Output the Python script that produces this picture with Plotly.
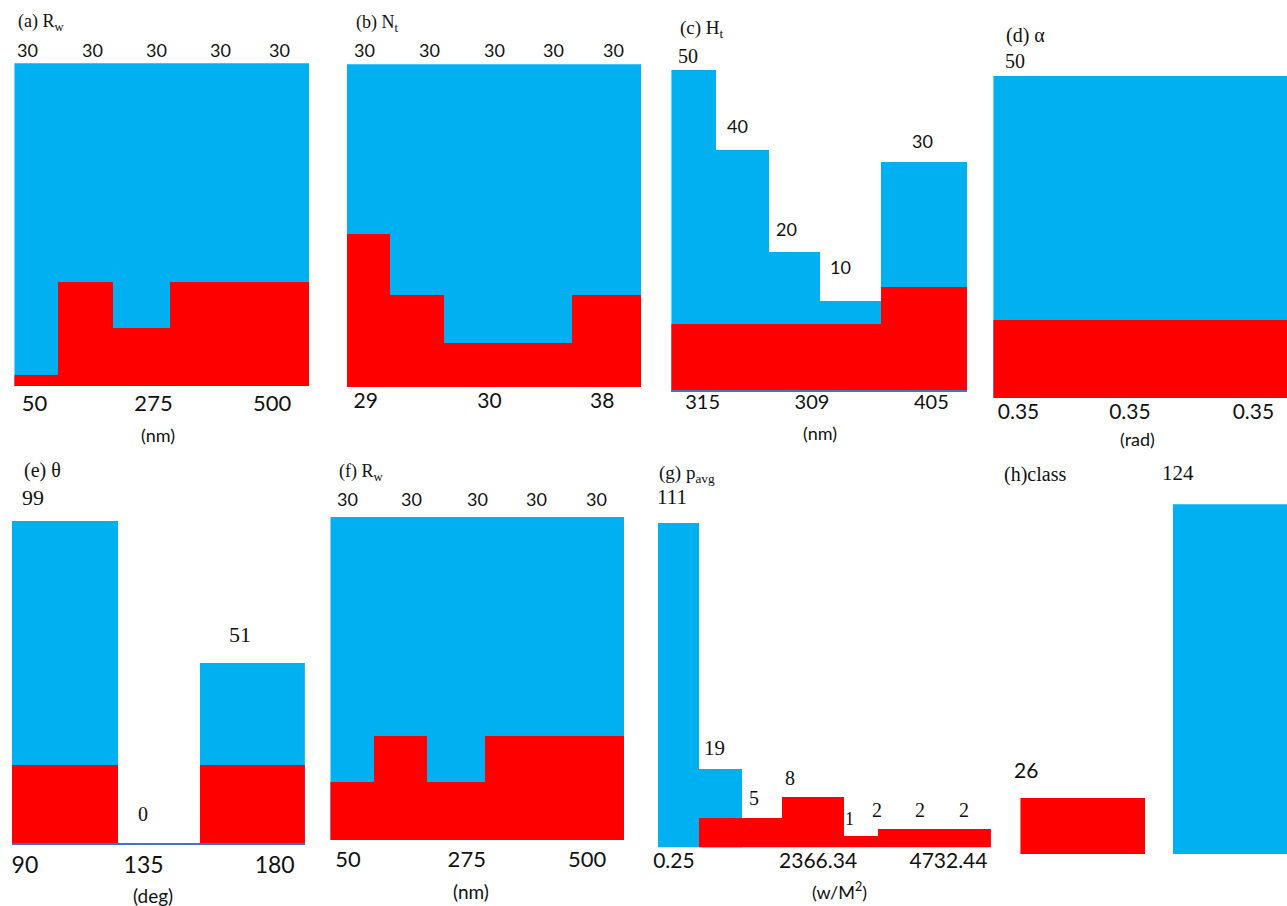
import plotly.graph_objects as go

W, H = 1287, 906
BLUE = "#00B0F0"
RED = "#FF0000"
LINE = "#4472C4"
SERIF = "Liberation Serif, Times New Roman, serif"
SANS = "Lato, Carlito, Calibri, sans-serif"

# ---------------- data (bin edges as fraction of panel width, heights in counts) ----------
a_blue_edges = [0, 1.0]
a_blue = [30]
a_red_edges = [0, 0.150, 0.335, 0.531, 1.0]
a_red = [1.0, 9.6, 5.4, 9.6]
a_counts = ["30", "30", "30", "30", "30"]
a_ticks = ["50", "275", "500"]

b_blue_edges = [0, 1.0]
b_blue = [30]
b_red_edges = [0, 0.146, 0.329, 0.766, 1.0]
b_red = [14.2, 8.5, 4.1, 8.5]
b_counts = ["30", "30", "30", "30", "30"]
b_ticks = ["29", "30", "38"]

c_blue_edges = [0, 0.1535, 0.3322, 0.5056, 0.711, 1.0]
c_blue = [50, 37.5, 21.5, 13.9, 35.6]
c_red_edges = [0, 0.711, 1.0]
c_red = [10.3, 16.1]
c_counts = ["50", "40", "20", "10", "30"]
c_ticks = ["315", "309", "405"]

d_blue_edges = [0, 1.0]
d_blue = [50]
d_red_edges = [0, 1.0]
d_red = [12.1]
d_counts = ["50"]
d_ticks = ["0.35", "0.35", "0.35"]

e_blue_edges = [0, 0.3603, 0.6424, 1.0]
e_blue = [99, 0, 55.4]
e_red_edges = [0, 0.3603, 0.6424, 1.0]
e_red = [24.0, 0, 24.0]
e_counts = ["99", "0", "51"]
e_ticks = ["90", "135", "180"]

f_blue_edges = [0, 1.0]
f_blue = [30]
f_red_edges = [0, 0.1484, 0.3311, 0.5273, 1.0]
f_red = [5.4, 9.7, 5.4, 9.7]
f_counts = ["30", "30", "30", "30", "30"]
f_ticks = ["50", "275", "500"]

g_blue_edges = [0, 0.122, 0.253]
g_blue = [111, 27.0]
g_red_edges = [0.122, 0.253, 0.3724, 0.5579, 0.659, 1.0]
g_red = [10.1, 10.1, 17.3, 4.0, 6.3]
g_counts = ["111", "19", "5", "8", "1", "2", "2", "2"]
g_ticks = ["0.25", "2366.34", "4732.44"]

h_blue_edges = [0.574, 1.0]
h_blue = [124]
h_red_edges = [0, 0.4705]
h_red = [19.8]
h_counts = ["26", "124"]

titles = ["(a) R<sub>w</sub>", "(b) N<sub>t</sub>", "(c) H<sub>t</sub>", "(d) α",
          "(e) θ", "(f) R<sub>w</sub>", "(g) p<sub>avg</sub>", "(h)class"]

# ---------------- layout helpers ----------------
def px(x, y):
    return x / W, 1 - y / H

panels = [
    dict(box=(10.5, 306, 63.3, 386), ymax=30,
         be=a_blue_edges, bh=a_blue, re=a_red_edges, rh=a_red,
         ticks=a_ticks, tpos=[0.068, 0.472, 0.875], tsize=22, stand=2, line=False),
    dict(box=(344, 639, 64.3, 387.3), ymax=30,
         be=b_blue_edges, bh=b_blue, re=b_red_edges, rh=b_red,
         ticks=b_ticks, tpos=[0.064, 0.485, 0.868], tsize=21, stand=-1, line=False),
    dict(box=(669.5, 966, 70, 390), ymax=50,
         be=c_blue_edges, bh=c_blue, re=c_red_edges, rh=c_red,
         ticks=c_ticks, tpos=[0.1056, 0.4755, 0.8796], tsize=20, stand=-7, line=True),
    dict(box=(992.5, 1287, 76, 398.3), ymax=50,
         be=d_blue_edges, bh=d_blue, re=d_red_edges, rh=d_red,
         ticks=d_ticks, tpos=[0.0856, 0.4649, 0.8856], tsize=21, stand=-1, line=False),
    dict(box=(7.6, 301.8, 520.7, 843.3), ymax=99,
         be=e_blue_edges, bh=e_blue, re=e_red_edges, rh=e_red,
         ticks=e_ticks, tpos=[0.0455, 0.45, 0.897], tsize=23, stand=0, line=True),
    dict(box=(327.5, 622, 516.7, 840), ymax=30,
         be=f_blue_edges, bh=f_blue, re=f_red_edges, rh=f_red,
         ticks=f_ticks, tpos=[0.0594, 0.4642, 0.874], tsize=22, stand=4, line=False),
    dict(box=(655.7, 990, 522.7, 847.3), ymax=111,
         be=g_blue_edges, bh=g_blue, re=g_red_edges, rh=g_red,
         ticks=g_ticks, tpos=[0.0488, 0.4813, 0.8726], tsize=21, stand=-1, line=False),
    dict(box=(1019.6, 1287, 504.3, 854.3), ymax=124,
         be=h_blue_edges, bh=h_blue, re=h_red_edges, rh=h_red,
         ticks=[], tpos=[], tsize=21, stand=0, line=False),
]

fig = go.Figure()
layout = dict(
    width=W, height=H, margin=dict(l=0, r=0, t=0, b=0),
    paper_bgcolor="white", plot_bgcolor="rgba(0,0,0,0)",
    barmode="overlay", showlegend=False, bargap=0,
)

def bars(edges, heights):
    mids = [(edges[i] + edges[i + 1]) / 2 for i in range(len(heights))]
    widths = [edges[i + 1] - edges[i] for i in range(len(heights))]
    return mids, widths

for i, p in enumerate(panels, start=1):
    xa = "x" if i == 1 else f"x{i}"
    ya = "y" if i == 1 else f"y{i}"
    l, r, t, b = p["box"]
    bx, bw = bars(p["be"], p["bh"])
    fig.add_trace(go.Bar(x=bx, y=p["bh"], width=bw, marker=dict(color=BLUE, line=dict(width=0)),
                         xaxis=xa, yaxis=ya, hoverinfo="skip"))
    rx, rw = bars(p["re"], p["rh"])
    fig.add_trace(go.Bar(x=rx, y=p["rh"], width=rw, marker=dict(color=RED, line=dict(width=0)),
                         xaxis=xa, yaxis=ya, hoverinfo="skip"))
    xkey = "xaxis" if i == 1 else f"xaxis{i}"
    ykey = "yaxis" if i == 1 else f"yaxis{i}"
    layout[xkey] = dict(domain=[l / W, r / W], range=[0, 1], anchor=ya,
                        showgrid=False, zeroline=False, ticks="",
                        showline=p["line"], linecolor=LINE, linewidth=1.5,
                        layer="below traces",
                        tickmode="array", tickvals=p["tpos"], ticktext=p["ticks"],
                        ticklabelstandoff=p["stand"],
                        tickfont=dict(family=SANS, size=p["tsize"], color="#111"),
                        fixedrange=True)
    layout[ykey] = dict(domain=[1 - b / H, 1 - t / H], range=[0, p["ymax"]], anchor=xa,
                        visible=False, fixedrange=True)

annotations = []

def ann(text, x, y, size, family, anchor="center", color="#111"):
    ax, ay = px(x, y)
    annotations.append(dict(text=text, x=ax, y=ay, xref="paper", yref="paper",
                            xanchor=anchor, yanchor="middle", showarrow=False,
                            font=dict(family=family, size=size, color=color)))

# titles
title_pos = [(12, 22, 18), (351, 23, 18), (676, 29, 19), (1003, 35.5, 20),
             (18, 470, 20), (334.5, 472, 18), (655, 474.5, 19), (1001.5, 474.5, 20)]
for txt, (x, y, s) in zip(titles, title_pos):
    ann(txt, x, y, s, SERIF, "left")

# count labels
for txt, x in zip(a_counts, [23.3, 88.3, 153.3, 216.7, 276.7]):
    ann(txt, x, 50, 18, SANS)
for txt, x in zip(b_counts, [362, 427, 492.5, 551.4, 611]):
    ann(txt, x, 50, 18, SANS)
ann(c_counts[0], 686.5, 55.5, 20, SERIF)
for txt, (x, y) in zip(c_counts[1:], [(735.3, 126), (785.3, 229.3), (839, 266.7), (921.4, 140.7)]):
    ann(txt, x, y, 18, SANS)
ann(d_counts[0], 1014.4, 61, 20, SERIF)
for txt, (x, y, s) in zip(e_counts, [(28.6, 497, 22), (139.7, 814, 20), (236.5, 634, 22)]):
    ann(txt, x, y, s, SERIF)
for txt, x in zip(f_counts, [344.3, 409, 474.8, 534.5, 594.3]):
    ann(txt, x, 498.5, 18, SANS)
for txt, (x, y, s) in zip(g_counts, [(670, 497, 21), (713, 748, 21), (752.6, 798, 20), (788.5, 778, 20),
                                     (848.4, 819, 18), (876, 810, 20), (919.3, 810, 20), (963, 810, 20)]):
    ann(txt, x, y, s, SERIF)
ann(h_counts[0], 1025, 769, 21, SANS)
ann(h_counts[1], 1177.6, 473, 21, SERIF)

# unit labels
ann("(nm)", 154.5, 435, 18, SANS)
ann("(nm)", 818.6, 433, 18, SANS)
ann("(rad)", 1137.5, 439, 18, SANS)
ann("(deg)", 149.4, 895, 19, SANS)
ann("(nm)", 468.5, 891, 19, SANS)
ann("(w/M<sup>2</sup>)", 838, 891, 18, SANS)

layout["annotations"] = annotations
fig.update_layout(**layout)

fig.write_html("out.html", include_plotlyjs=True, config={"displayModeBar": False},
               post_script="document.body.style.margin='0';document.body.style.overflow='hidden';")
